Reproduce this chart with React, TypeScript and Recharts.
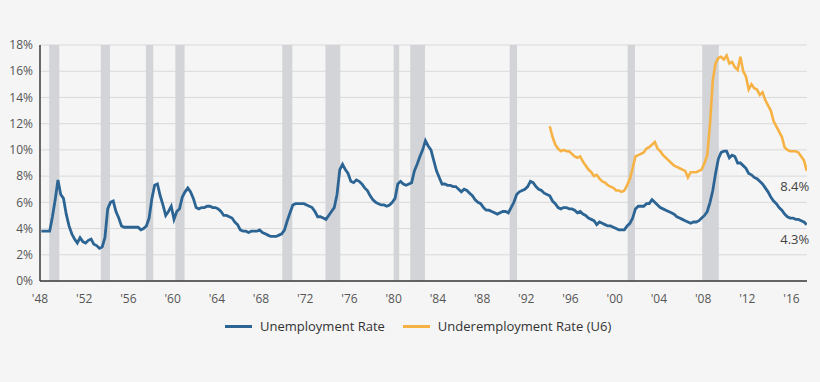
import {
  CartesianGrid,
  Legend,
  Line,
  LineChart,
  ReferenceArea,
  ReferenceDot,
  XAxis,
  YAxis,
} from "recharts";

// quarterly readings, first quarter = 1948 Q1
const unemployment = [
  3.8, 3.8, 3.8, 3.8,
  4.9, 6.2, 7.7, 6.6,
  6.3, 5.1, 4.2, 3.6,
  3.2, 2.9, 3.3, 3.0,
  2.9, 3.1, 3.2, 2.8,
  2.7, 2.5, 2.6, 3.3,
  5.5, 6.0, 6.1, 5.3,
  4.8, 4.2, 4.1, 4.1,
  4.1, 4.1, 4.1, 4.1,
  3.9, 4.0, 4.2, 4.8,
  6.3, 7.3, 7.4, 6.5,
  5.8, 5.0, 5.3, 5.7,
  4.7, 5.3, 5.5, 6.4,
  6.8, 7.1, 6.8, 6.3,
  5.6, 5.5, 5.6, 5.6,
  5.7, 5.7, 5.6, 5.6,
  5.5, 5.3, 5.0, 5.0,
  4.9, 4.8, 4.5, 4.3,
  3.9, 3.8, 3.8, 3.7,
  3.8, 3.8, 3.8, 3.9,
  3.7, 3.6, 3.5, 3.4,
  3.4, 3.4, 3.5, 3.6,
  3.9, 4.6, 5.2, 5.8,
  5.9, 5.9, 5.9, 5.9,
  5.8, 5.7, 5.6, 5.3,
  4.9, 4.9, 4.8, 4.7,
  5.0, 5.3, 5.6, 6.6,
  8.5, 8.9, 8.5, 8.2,
  7.6, 7.5, 7.7, 7.6,
  7.4, 7.1, 6.9, 6.5,
  6.2, 6.0, 5.9, 5.8,
  5.8, 5.7, 5.8, 6.0,
  6.3, 7.4, 7.6, 7.4,
  7.3, 7.4, 7.5, 8.4,
  8.9, 9.5, 10.0, 10.7,
  10.3, 10.0, 9.2, 8.4,
  7.9, 7.4, 7.4, 7.3,
  7.3, 7.2, 7.2, 7.0,
  6.8, 7.0, 6.9, 6.7,
  6.5, 6.2, 6.0, 5.9,
  5.6, 5.4, 5.4, 5.3,
  5.2, 5.1, 5.2, 5.3,
  5.3, 5.2, 5.6, 6.0,
  6.6, 6.8, 6.9, 7.0,
  7.2, 7.6, 7.5, 7.2,
  7.0, 6.9, 6.7, 6.6,
  6.5, 6.1, 5.9, 5.6,
  5.5, 5.6, 5.6, 5.5,
  5.5, 5.4, 5.2, 5.3,
  5.1, 5.0, 4.8, 4.7,
  4.6, 4.3, 4.5, 4.4,
  4.3, 4.2, 4.2, 4.1,
  4.0, 3.9, 3.9, 3.9,
  4.2, 4.4, 4.8, 5.5,
  5.7, 5.7, 5.7, 5.9,
  5.9, 6.2, 6.0, 5.8,
  5.6, 5.5, 5.4, 5.3,
  5.2, 5.1, 4.9, 4.8,
  4.7, 4.6, 4.5, 4.4,
  4.5, 4.5, 4.6, 4.8,
  5.0, 5.3, 6.0, 6.9,
  8.2, 9.3, 9.8, 9.9,
  9.9, 9.4, 9.6, 9.5,
  9.0, 9.0, 8.8, 8.6,
  8.2, 8.1, 7.9, 7.8,
  7.6, 7.4, 7.1, 6.8,
  6.4, 6.1, 5.9, 5.6,
  5.4, 5.1, 4.9, 4.8,
  4.8, 4.7, 4.7, 4.6,
  4.5, 4.3,
];

// quarterly readings, first quarter = 1994 Q1
const underemployment = [
  11.8, 11.0, 10.4, 10.1,
  9.9, 10.0, 9.9, 9.9,
  9.7, 9.5, 9.4, 9.5,
  9.1, 8.8, 8.5, 8.3,
  8.0, 8.1, 7.8, 7.6,
  7.5, 7.3, 7.2, 7.1,
  6.9, 6.9, 6.8, 6.9,
  7.3, 7.8, 8.6, 9.5,
  9.6, 9.7, 9.8, 10.1,
  10.2, 10.4, 10.6, 10.1,
  9.9, 9.6, 9.4, 9.2,
  9.0, 8.8, 8.7, 8.6,
  8.5, 8.4, 7.9, 8.3,
  8.3, 8.3, 8.4, 8.5,
  9.0, 9.6, 12.0, 15.3,
  16.6, 17.0, 17.1, 16.9,
  17.2, 16.6, 16.7, 16.3,
  16.1, 17.1, 16.0, 15.6,
  14.6, 15.0, 14.7, 14.6,
  14.2, 14.4, 13.8, 13.4,
  13.0, 12.2, 11.8, 11.4,
  11.0, 10.2, 10.0, 9.9,
  9.9, 9.9, 9.8, 9.5,
  9.2, 8.4,
];

const recessions = [
  [1948.83, 1949.75],
  [1953.5, 1954.33],
  [1957.58, 1958.25],
  [1960.25, 1961.08],
  [1969.92, 1970.83],
  [1973.83, 1975.17],
  [1980.0, 1980.5],
  [1981.5, 1982.83],
  [1990.5, 1991.17],
  [2001.17, 2001.83],
  [2007.92, 2009.42],
];

const yearTicks = [
  1948, 1952, 1956, 1960, 1964, 1968, 1972, 1976, 1980, 1984, 1988, 1992,
  1996, 2000, 2004, 2008, 2012, 2016,
];
const pctTicks = [0, 2, 4, 6, 8, 10, 12, 14, 16, 18];

const BLUE = "#2c6494";
const ORANGE = "#f6b244";
const FONT = "'Open Sans', 'Noto Sans', sans-serif";

const U6_OFFSET = (1994 - 1948) * 4;

const data = unemployment.map((u3, i) => ({
  year: 1948 + i * 0.25 + 0.125,
  u3,
  u6: i >= U6_OFFSET ? underemployment[i - U6_OFFSET] : null,
}));

const last = data[data.length - 1];

const legendItems = [
  { label: "Unemployment Rate", color: BLUE },
  { label: "Underemployment Rate (U6)", color: ORANGE },
];

function ChartLegend() {
  return (
    <div
      style={{
        display: "flex",
        paddingLeft: 225,
        fontSize: 13,
        color: "#333",
        fontFamily: FONT,
        lineHeight: "20px",
      }}
    >
      {legendItems.map((it) => (
        <span
          key={it.label}
          style={{ display: "flex", alignItems: "center", marginRight: 18 }}
        >
          <span
            style={{
              display: "inline-block",
              width: 27,
              height: 3,
              background: it.color,
              marginRight: 8,
            }}
          />
          {it.label}
        </span>
      ))}
    </div>
  );
}

export default function App() {
  return (
    <div
      style={{
        position: "absolute",
        left: 0,
        top: 0,
        width: 820,
        height: 382,
        background: "#f5f5f5",
      }}
    >
      <LineChart
        width={820}
        height={382}
        data={data}
        margin={{ top: 45, right: 13, left: 0, bottom: 46 }}
        style={{ fontFamily: FONT }}
      >
        <CartesianGrid vertical={false} stroke="#d9d9d9" />
        {recessions.map(([a, b]) => (
          <ReferenceArea
            key={a}
            x1={a}
            x2={b}
            fill="#d3d4d7"
            fillOpacity={1}
            stroke="none"
            ifOverflow="hidden"
          />
        ))}
        <XAxis
          dataKey="year"
          type="number"
          domain={[1948, 2017.4]}
          ticks={yearTicks}
          tickFormatter={(v) => "'" + String(v).slice(2)}
          tickLine={false}
          tickSize={0}
          tickMargin={13}
          height={35}
          axisLine={{ stroke: "#3a3a3a", strokeWidth: 1.5 }}
          tick={{ fontSize: 12, fill: "#555" }}
          allowDataOverflow
        />
        <YAxis
          type="number"
          domain={[0, 18]}
          ticks={pctTicks}
          tickFormatter={(v) => `${v}%`}
          tickLine={false}
          tickSize={0}
          tickMargin={7}
          width={40}
          axisLine={{ stroke: "#3a3a3a", strokeWidth: 1.5 }}
          tick={{ fontSize: 12, fill: "#555" }}
        />
        <Line
          type="linear"
          dataKey="u3"
          name="Unemployment Rate"
          stroke={BLUE}
          strokeWidth={2.8}
          dot={false}
          isAnimationActive={false}
        />
        <Line
          type="linear"
          dataKey="u6"
          name="Underemployment Rate (U6)"
          stroke={ORANGE}
          strokeWidth={2.6}
          dot={false}
          isAnimationActive={false}
        />
        <ReferenceDot
          x={last.year}
          y={last.u6}
          r={0}
          fill="none"
          stroke="none"
          ifOverflow="visible"
          label={{
            value: `${last.u6}%`,
            position: "bottom",
            offset: 11,
            dx: -12,
            fill: "#444",
            fontSize: 13,
          }}
        />
        <ReferenceDot
          x={last.year}
          y={last.u3}
          r={0}
          fill="none"
          stroke="none"
          ifOverflow="visible"
          label={{
            value: `${last.u3}%`,
            position: "bottom",
            offset: 10,
            dx: -12,
            fill: "#444",
            fontSize: 13,
          }}
        />
        <Legend verticalAlign="bottom" content={() => <ChartLegend />} />
      </LineChart>
    </div>
  );
}
